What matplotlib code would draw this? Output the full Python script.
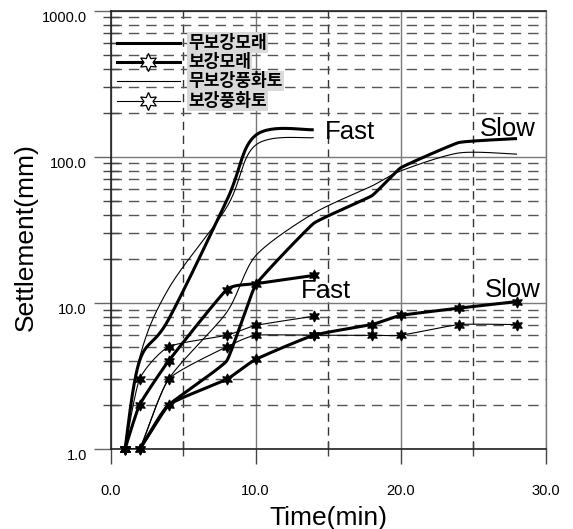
import numpy as np
import matplotlib
matplotlib.use("Agg")
import matplotlib.pyplot as plt
from matplotlib.lines import Line2D

# ---------------- data ----------------
time_fast = [1, 2, 4, 8, 10, 14]
time_slow = [1, 2, 4, 8, 10, 14, 18, 20, 24, 28]

sand_unreinf_fast = [1, 4.0, 7.7, 50, 140, 153]
sand_reinf_fast = [1, 2, 4, 12.3, 13.5, 15.4]
soil_unreinf_fast = [1, 4.2, 12.5, 45, 120, 135]
soil_reinf_fast = [1, 3, 5, 6, 7, 8.1]

sand_unreinf_slow = [1, 1, 2, 4, 13.3, 35, 54, 84, 125, 133]
sand_reinf_slow = [1, 1, 2, 3, 4.1, 6, 7.1, 8.2, 9.2, 10.2]
soil_unreinf_slow = [1, 1, 3, 8.6, 21, 41, 63, 80, 106, 104]
soil_reinf_slow = [1, 1, 3, 5, 6, 6, 6, 6, 7.1, 7.1]

legend_labels = ["무보강모래", "보강모래", "무보강풍화토", "보강풍화토"]
x_ticks = [0, 10, 20, 30]
x_ticklabels = ["0.0", "10.0", "20.0", "30.0"]
y_ticks = [1, 10, 100, 1000]
y_ticklabels = ["1.0", "10.0", "100.0", "1000.0"]

W, H = 573, 529
plt.rcParams['font.family'] = ['Liberation Sans', 'DejaVu Sans']

fig = plt.figure(figsize=(W / 100, H / 100), dpi=100)
L, R, T, B = 110.5, 546, 10.5, 449
ax = fig.add_axes([L / W, 1 - B / H, (R - L) / W, (B - T) / H])


def smooth(xs, ys, k=1.0, n=30):
    """Bezier smoothing (Excel-style) in (x, log y) space; k scales the tension."""
    P = np.column_stack([np.asarray(xs, float), np.log10(np.asarray(ys, float))])
    P = np.vstack([P[0], P, P[-1]])
    out = []
    t = np.linspace(0, 1, n)[:, None]
    for i in range(1, len(P) - 2):
        p0, p1, p2, p3 = P[i - 1], P[i], P[i + 1], P[i + 2]
        c1 = p1 + k * (p2 - p0) / 6
        c2 = p2 - k * (p3 - p1) / 6
        seg = (1 - t) ** 3 * p1 + 3 * (1 - t) ** 2 * t * c1 + 3 * (1 - t) * t ** 2 * c2 + t ** 3 * p2
        out.append(seg if i == 1 else seg[1:])
    pts = np.vstack(out)
    return pts[:, 0], 10 ** pts[:, 1]


THICK, THIN = 2.2, 0.8
star = (6, 1, 0)

series = [
    (time_fast, sand_unreinf_fast, THICK, False, 1.0),
    (time_slow, sand_unreinf_slow, THICK, False, 0.3),
    (time_fast, soil_unreinf_fast, THIN, False, 1.0),
    (time_slow, soil_unreinf_slow, THIN, False, 0.8),
    (time_fast, sand_reinf_fast, THICK, True, 0.45),
    (time_slow, sand_reinf_slow, THICK, True, 0.5),
    (time_fast, soil_reinf_fast, THIN, True, 0.6),
    (time_slow, soil_reinf_slow, THIN, True, 0.5),
]
for xs, ys, lw, mk, k in series:
    sx, sy = smooth(xs, ys, k)
    ax.plot(sx, sy, color='black', lw=lw, zorder=4, solid_capstyle='butt')
    if mk:
        ax.plot(xs, ys, ls='none', marker=star, ms=8, mfc='black', mec='black',
                mew=0.8, zorder=5, clip_on=False)

ax.set_yscale('log')
ax.set_xlim(0, 30)
ax.set_ylim(1, 1000)

ax.set_xticks(x_ticks)
ax.set_xticklabels(x_ticklabels)
ax.set_xticks([5, 15, 25], minor=True)
ax.set_yticks(y_ticks)
ax.set_yticklabels(y_ticklabels)
ax.yaxis.set_minor_locator(matplotlib.ticker.LogLocator(base=10, subs=np.arange(2, 10)))
ax.yaxis.set_minor_formatter(matplotlib.ticker.NullFormatter())

ax.grid(which='major', color='#7a7a7a', lw=1.0, ls='-', zorder=1)
ax.grid(which='minor', axis='y', color='#555555', lw=1.0, ls=(0, (7.5, 5)), zorder=1)
ax.grid(which='minor', axis='x', color='#333333', lw=1.0, ls=(0, (6, 4)), zorder=1)
ax.set_axisbelow(True)

ax.tick_params(axis='x', which='major', direction='out', length=11, width=1,
               color='#444444', pad=14, labelsize=10.5)
ax.tick_params(axis='x', which='minor', direction='inout', length=10, width=1,
               color='#444444')
ax.tick_params(axis='y', which='major', direction='out', length=12, width=1,
               color='#666666', pad=5, labelsize=10.5)
ax.tick_params(axis='y', which='minor', direction='inout', length=11.5, width=1,
               color='#444444')
for lbl in ax.get_yticklabels():
    lbl.set_va('top')

for s in ['left', 'bottom', 'top']:
    ax.spines[s].set_color('#222222')
    ax.spines[s].set_linewidth(1.2)
ax.spines['right'].set_color('#777777')
ax.spines['right'].set_linewidth(1.0)

# annotations
ax.text(14.78, 131.5, "Fast", fontsize=18.5, ha='left', va='baseline', zorder=6)
ax.text(25.45, 138.4, "Slow", fontsize=18.5, ha='left', va='baseline', zorder=6)
ax.text(13.10, 10.74, "Fast", fontsize=18.5, ha='left', va='baseline', zorder=6)
ax.text(25.80, 11.0, "Slow", fontsize=18.5, ha='left', va='baseline', zorder=6)

# axis labels
fig.text(328 / W, 1 - 525 / H, "Time(min)", fontsize=19, ha='center', va='baseline')
fig.text(33 / W, 1 - 237 / H, "Settlement(mm)", fontsize=19, rotation=90,
         rotation_mode='anchor', ha='center', va='baseline')

# legend (manual)
rows_y = [42.7, 61.7, 81, 100.7]
styles = [(THICK, False), (THICK, True), (THIN, False), (THIN, True)]
for yy, lab, (lw, mk) in zip(rows_y, legend_labels, styles):
    fy = 1 - yy / H
    fig.add_artist(Line2D([117 / W, 180 / W], [fy, fy], transform=fig.transFigure,
                          color='black', lw=lw, zorder=7))
    if mk:
        fig.add_artist(Line2D([148 / W], [fy], transform=fig.transFigure, ls='none',
                              marker=star, ms=13, mfc='white', mec='black', mew=0.9,
                              zorder=8))
    fig.text(188 / W, fy, lab, fontsize=12.3, ha='left', va='center',
             family=['Noto Sans CJK KR', 'DejaVu Sans'], weight='bold', zorder=8,
             bbox=dict(facecolor='#d9d9d9', edgecolor='none', pad=1.0))

fig.savefig("out.png", dpi=100)
